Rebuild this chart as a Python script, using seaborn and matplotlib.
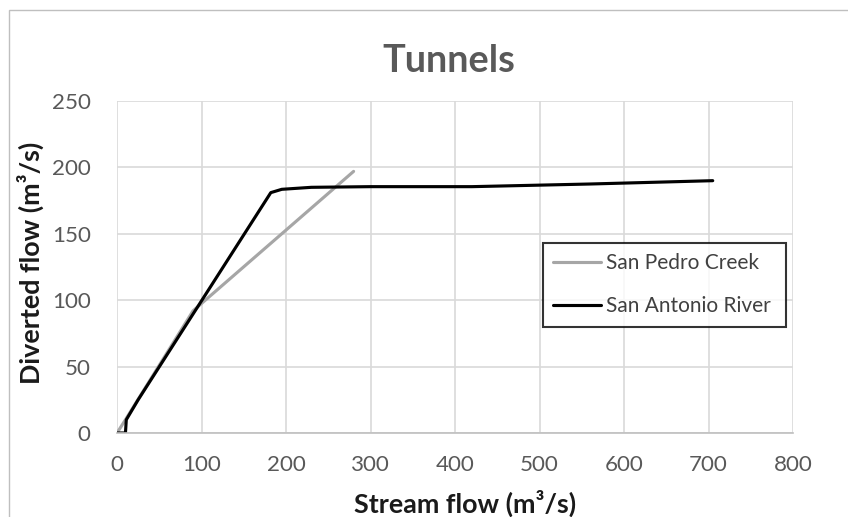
import matplotlib
matplotlib.use("Agg")
import matplotlib.pyplot as plt
import seaborn as sns
import pandas as pd
from matplotlib.patches import Rectangle

# Data
pedro_x = [0, 10, 90, 280]
pedro_y = [0, 10, 92, 197]
antonio_x = [0, 10, 11, 25, 182, 195, 230, 300, 420, 560, 705]
antonio_y = [0, 0, 10, 25, 181, 183.5, 185, 185.5, 185.5, 187.5, 190]
series_names = ["San Pedro Creek", "San Antonio River"]
x_ticks = [0, 100, 200, 300, 400, 500, 600, 700, 800]
y_ticks = [0, 50, 100, 150, 200, 250]
title = "Tunnels"
x_label = "Stream flow (m³/s)"
y_label = "Diverted flow (m³/s)"

df = pd.concat([
    pd.DataFrame({"x": pedro_x, "y": pedro_y, "series": series_names[0]}),
    pd.DataFrame({"x": antonio_x, "y": antonio_y, "series": series_names[1]}),
], ignore_index=True)

sns.set_theme(style="white")
FAM = ['Lato', 'DejaVu Sans']
plt.rcParams['font.family'] = FAM

fig = plt.figure(figsize=(8.48, 5.17), dpi=100)
renderer = fig.canvas.get_renderer()


def fit_size(text, weight, target_px):
    t = fig.text(0, 0, text, fontsize=20, fontweight=weight, family=FAM)
    w = t.get_window_extent(renderer).width
    t.remove()
    return 20 * target_px / w


tick_fs = fit_size("100", "normal", 39)
lab_fs = (fit_size(x_label, "bold", 224) + fit_size(y_label, "bold", 240)) / 2
title_fs = fit_size(title, "bold", 133)
leg_fs = fit_size(series_names[1], "normal", 165)

ax = fig.add_axes([117 / 848, 1 - 433 / 517, 676 / 848, 332 / 517])

# outer chart border
fig.patches.append(Rectangle((9 / 848, -0.01), 1.0, 1 - 10 / 517 + 0.01, transform=fig.transFigure,
                             fill=False, edgecolor="#BFBFBF", linewidth=1.0))

sns.lineplot(data=df, x="x", y="y", hue="series", hue_order=series_names,
             palette={series_names[0]: "#A6A6A6", series_names[1]: "#000000"},
             sort=False, estimator=None, units="series", linewidth=2.25, ax=ax)

ax.set_xlim(0, 800)
ax.set_ylim(0, 250)
ax.set_xticks(x_ticks)
ax.set_yticks(y_ticks)
ax.grid(True, color="#D9D9D9", linewidth=1.2)
ax.set_axisbelow(True)
for s in ["top", "right", "left"]:
    ax.spines[s].set_visible(False)
ax.spines["bottom"].set_color("#BFBFBF")
ax.spines["bottom"].set_linewidth(1.2)
ax.tick_params(axis="both", length=0, labelsize=tick_fs, colors="#595959")
ax.tick_params(axis="x", pad=16)
ax.tick_params(axis="y", pad=19)

ax.set_xlabel(x_label, fontsize=lab_fs, fontweight="bold", color="#1a1a1a")
ax.set_ylabel(y_label, fontsize=lab_fs, fontweight="bold", color="#1a1a1a")
ax.xaxis.label.set_verticalalignment("center")
ax.yaxis.label.set_verticalalignment("center")
ax.xaxis.set_label_coords((465 - 117) / 676, (433 - 503) / 332)
ax.yaxis.set_label_coords((30 - 117) / 676, (433 - 263) / 332)

fig.text(449 / 848, 1 - 61 / 517, title, ha="center", va="center",
         fontsize=title_fs, fontweight="bold", color="#595959")

em = leg_fs * 100 / 72
leg = ax.legend(loc="upper left",
                bbox_to_anchor=((543 - 117) / 676, (433 - 329) / 332, (786 - 543) / 676, (329 - 243) / 332),
                mode="expand", fontsize=leg_fs,
                frameon=True, fancybox=False, edgecolor="#000000", handlelength=48 / em,
                borderpad=0.5, labelspacing=1.1, handletextpad=5 / em, borderaxespad=0, title=None)
leg.get_frame().set_linewidth(1.5)
for t in leg.get_texts():
    t.set_color("#404040")

fig.savefig("out.png", dpi=100, facecolor="white")
